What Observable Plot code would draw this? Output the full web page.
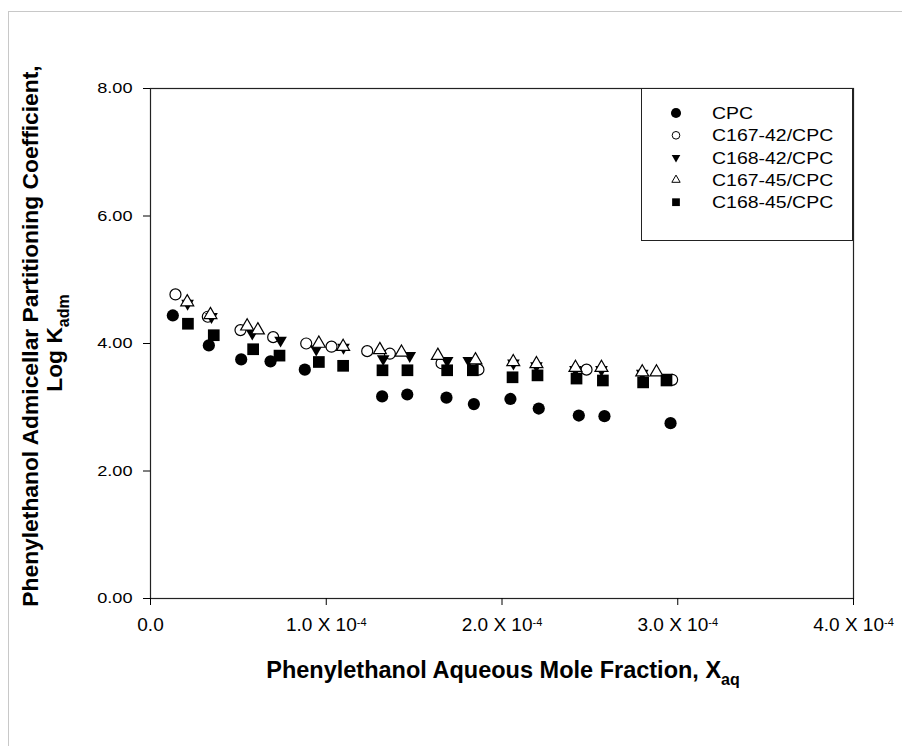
<!DOCTYPE html>
<html><head><meta charset="utf-8">
<script src="https://cdn.jsdelivr.net/npm/d3@7"></script>
<script src="https://cdn.jsdelivr.net/npm/@observablehq/plot@0.6"></script>
<style>
html,body{margin:0;padding:0;background:#fff;}
#wrap{position:relative;width:902px;height:746px;overflow:hidden;font-family:"Liberation Sans",Arial,sans-serif;}
#border{position:absolute;left:8px;top:11px;width:1000px;height:1000px;border-left:1px solid #c8c8c8;border-top:1px solid #c8c8c8;}
#chart{position:absolute;left:0;top:0;}
#legend{position:absolute;left:641px;top:88px;width:212px;height:153px;border:1px solid #222;background:#fff;box-sizing:border-box;}
</style></head><body>
<div id="wrap"><div id="border"></div><div id="chart"></div><div id="legend"></div></div>
<script>
// Series names
const seriesNames = ["CPC", "C167-42/CPC", "C168-42/CPC", "C167-45/CPC", "C168-45/CPC"];
// x in units of 10^-4 (aqueous mole fraction), y = log K_adm
const xCPC = [0.127,0.332,0.516,0.683,0.878,1.318,1.461,1.684,1.840,2.048,2.209,2.437,2.583,2.959];
const yCPC = [4.44,3.97,3.75,3.72,3.59,3.17,3.20,3.15,3.05,3.13,2.98,2.87,2.86,2.75];
const xC16742 = [0.142,0.326,0.512,0.698,0.886,1.030,1.233,1.362,1.656,1.866,2.481,2.968];
const yC16742 = [4.77,4.42,4.21,4.10,4.00,3.95,3.88,3.84,3.69,3.59,3.59,3.43];
const xC16842 = [0.211,0.347,0.579,0.740,0.943,1.098,1.324,1.475,1.688,1.811,2.065,2.196,2.418,2.566,2.798,2.936];
const yC16842 = [4.63,4.42,4.16,4.05,3.91,3.94,3.76,3.81,3.73,3.73,3.69,3.65,3.59,3.59,3.53,3.47];
const xC16745 = [0.209,0.341,0.550,0.611,0.958,1.096,1.305,1.428,1.635,1.849,2.064,2.196,2.418,2.566,2.798,2.879];
const yC16745 = [4.65,4.45,4.27,4.21,4.00,3.95,3.90,3.86,3.81,3.74,3.71,3.68,3.62,3.62,3.55,3.55];
const xC16845 = [0.213,0.360,0.584,0.734,0.958,1.096,1.320,1.462,1.688,1.834,2.060,2.202,2.424,2.574,2.803,2.936];
const yC16845 = [4.31,4.13,3.91,3.81,3.71,3.65,3.58,3.58,3.58,3.58,3.47,3.50,3.45,3.42,3.39,3.42];
// Tick values
const xTicks = [0, 1, 2, 3, 4];
const yTicks = [0, 2, 4, 6, 8];

const toRows = (xs, ys) => xs.map((x, i) => ({x, y: ys[i]}));
const dCPC = toRows(xCPC, yCPC);
const d16742 = toRows(xC16742, yC16742);
const d16842 = toRows(xC16842, yC16842);
const d16745 = toRows(xC16745, yC16745);
const d16845 = toRows(xC16845, yC16845);

const triangleDown = {
  draw(context, size) {
    const s3 = Math.sqrt(3);
    const y = -Math.sqrt(size / (s3 * 3));
    context.moveTo(0, -y * 2);
    context.lineTo(-s3 * y, y);
    context.lineTo(s3 * y, y);
    context.closePath();
  }
};

const FONT = '"Liberation Sans", Arial, sans-serif';
const chart = Plot.plot({
  width: 902, height: 746,
  marginLeft: 150, marginRight: 49, marginTop: 88, marginBottom: 148,
  x: {domain: [0, 4]},
  y: {domain: [0, 8]},
  style: {fontFamily: FONT, fontSize: "16px", color: "#000", background: "transparent", overflow: "visible"},
  marks: [
    Plot.frame({stroke: "#222", strokeWidth: 1.2}),
    Plot.axisY({ticks: yTicks, tickFormat: d3.format(".2f"), tickSize: 7, tickPadding: 11, label: null, fontSize: 15.5}),
    Plot.axisX({ticks: xTicks, tickFormat: d => d === 0 ? "0.0" : d.toFixed(1) + " X 10", tickSize: 7, tickPadding: 12, label: null, fontSize: 19}),
    Plot.dot(dCPC, {x: "x", y: "y", symbol: "circle", r: 6.1, fill: "#000", stroke: "none"}),
    Plot.dot(d16742, {x: "x", y: "y", symbol: "circle", r: 5.5, fill: "#fff", stroke: "#000", strokeWidth: 1.2}),
    Plot.dot(d16842, {x: "x", y: "y", symbol: triangleDown, r: 4.7, fill: "#000", stroke: "none"}),
    Plot.dot(d16745, {x: "x", y: "y", symbol: "triangle", r: 4.8, fill: "#fff", stroke: "#000", strokeWidth: 1.2}),
    Plot.dot(d16845, {x: "x", y: "y", symbol: "square", r: 6.6, fill: "#000", stroke: "none"})
  ]
});
document.getElementById("chart").appendChild(chart);

const svg = d3.select(chart);
// superscripts on x tick labels
svg.selectAll('g[aria-label="x-axis tick label"] text').each(function() {
  const t = d3.select(this);
  if (t.text() !== "0.0") {
    t.append("tspan").attr("dy", "-0.5em").attr("font-size", "11px").text("-4");
  }
});
// slightly wide y tick labels, as in the reference
svg.selectAll('g[aria-label="y-axis tick label"] text').each(function() {
  const w = this.getComputedTextLength();
  this.setAttribute("textLength", (w * 1.17).toFixed(1));
  this.setAttribute("lengthAdjust", "spacingAndGlyphs");
});

// axis titles
function titleText(transform, size) {
  return svg.append("text").attr("transform", transform).attr("text-anchor", "middle")
    .attr("font-weight", "bold").attr("font-size", size + "px").attr("font-family", FONT).attr("fill", "#000");
}
const xt = titleText("translate(503,678)", 23.5);
xt.append("tspan").text("Phenylethanol Aqueous Mole Fraction, X");
xt.append("tspan").attr("dy", "7").attr("font-size", "16px").text("aq");

const yt1 = titleText("translate(38,336) rotate(-90)", 22.8);
yt1.text("Phenylethanol Admicellar Partitioning Coefficient,");
const yt2 = titleText("translate(62,343) rotate(-90)", 22.8);
yt2.append("tspan").text("Log K");
yt2.append("tspan").attr("dy", "7").attr("font-size", "16px").text("adm");

// legend
const legendSymbols = [
  {sym: d3.symbolCircle, size: 80, fill: "#000", stroke: "none"},
  {sym: d3.symbolCircle, size: 46, fill: "#fff", stroke: "#000"},
  {sym: triangleDown, size: 32, fill: "#000", stroke: "none"},
  {sym: d3.symbolTriangle, size: 30, fill: "#fff", stroke: "#000"},
  {sym: d3.symbolSquare, size: 60, fill: "#000", stroke: "none"}
];
const lsvg = d3.select("#legend").append("svg").attr("width", 210).attr("height", 151);
seriesNames.forEach((name, i) => {
  const cy = 24 + i * 22.3;
  const s = legendSymbols[i];
  lsvg.append("path").attr("transform", `translate(34,${cy})`)
    .attr("d", d3.symbol(s.sym, s.size)()).attr("fill", s.fill).attr("stroke", s.stroke).attr("stroke-width", 1);
  const t = lsvg.append("text").attr("x", 70).attr("y", cy).attr("dy", "0.36em")
    .attr("font-family", FONT).attr("font-size", "16.5px").attr("fill", "#000").text(name);
  const w = t.node().getComputedTextLength();
  t.attr("textLength", (w * 1.18).toFixed(1)).attr("lengthAdjust", "spacingAndGlyphs");
});
</script>
</body></html>
